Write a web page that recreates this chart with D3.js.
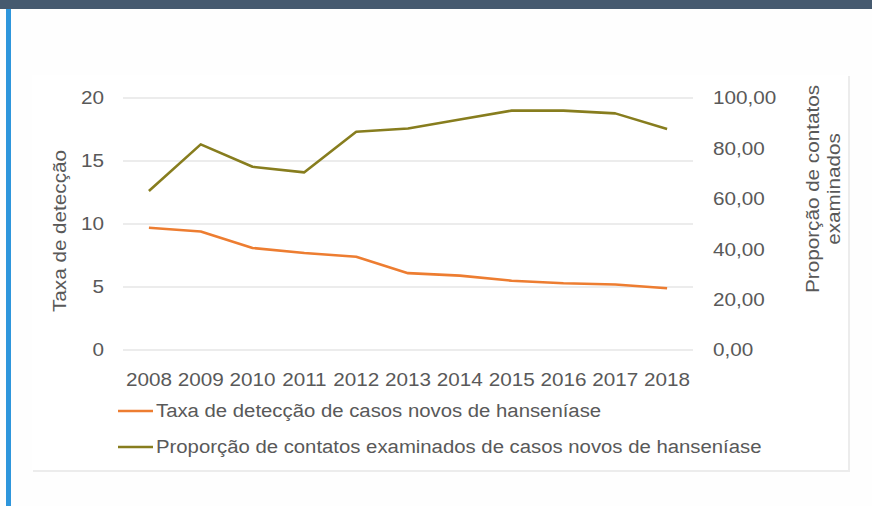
<!DOCTYPE html>
<html><head><meta charset="utf-8">
<script src="https://cdn.jsdelivr.net/npm/d3@7"></script>
<style>
html,body{margin:0;padding:0;background:#fefefe;}
svg{display:block;font-family:"Liberation Sans",Arial,sans-serif;}
</style></head>
<body><svg id="c" width="872" height="506"></svg>
<script>
const years = ["2008","2009","2010","2011","2012","2013","2014","2015","2016","2017","2018"];
const taxaDeteccao = [9.7, 9.4, 8.1, 7.7, 7.4, 6.1, 5.9, 5.5, 5.3, 5.2, 4.9];
const proporcaoContatos = [63.1, 81.6, 72.7, 70.5, 86.6, 87.9, 91.5, 95.0, 95.0, 93.9, 87.7];
const leftTicks = [0, 5, 10, 15, 20];
const rightTicks = [0, 20, 40, 60, 80, 100];
const seriesNames = ["Taxa de detecção de casos novos de hanseníase","Proporção de contatos examinados de casos novos de hanseníase"];
const colors = ["#ed7d31", "#877d1e"];

const SX = 1.15, FS = 18;
const svg = d3.select("#c");
svg.append("rect").attr("x",0).attr("y",0).attr("width",872).attr("height",9).attr("fill","#465a6f");
svg.append("rect").attr("x",6).attr("y",9).attr("width",5).attr("height",497).attr("fill","#2e96dc");
svg.append("rect").attr("x",33).attr("y",76).attr("width",817).attr("height",396).attr("fill","#ececec");
svg.append("rect").attr("x",32).attr("y",75).attr("width",816).attr("height",395).attr("fill","#ffffff");

const x = d3.scalePoint().domain(years).range([123,693]).padding(0.5);
const yL = d3.scaleLinear().domain([0,20]).range([350,98]);
const yR = d3.scaleLinear().domain([0,100]).range([350,98]);

const textColor = "#595959";
svg.append("g").selectAll("line").data(leftTicks).join("line")
  .attr("x1",123).attr("x2",693).attr("y1",d=>yL(d)).attr("y2",d=>yL(d))
  .attr("stroke","#d9d9d9").attr("stroke-width",1.2);

svg.append("g").selectAll("text").data(leftTicks).join("text")
  .attr("transform",d=>`translate(104,${yL(d)}) scale(${SX},1)`).attr("dy","0.35em").attr("text-anchor","end")
  .attr("font-size",FS).attr("fill",textColor).text(d=>d);
const fmt = d => d3.format(".2f")(d).replace(".",",");
svg.append("g").selectAll("text").data(rightTicks).join("text")
  .attr("transform",d=>`translate(713,${yR(d)}) scale(${SX},1)`).attr("dy","0.35em").attr("text-anchor","start")
  .attr("font-size",FS).attr("fill",textColor).text(fmt);
svg.append("g").selectAll("text").data(years).join("text")
  .attr("transform",d=>`translate(${x(d)},380) scale(${SX},1)`).attr("dy","0.35em").attr("text-anchor","middle")
  .attr("font-size",FS).attr("fill",textColor).text(d=>d);

svg.append("text").attr("transform",`translate(60,231) rotate(-90) scale(${SX},1)`).attr("text-anchor","middle")
  .attr("dy","0.35em").attr("font-size",FS).attr("fill",textColor).text("Taxa de detecção");
const rt = svg.append("text").attr("transform",`translate(813,189) rotate(-90) scale(${SX},1)`).attr("text-anchor","middle")
  .attr("font-size",FS).attr("fill",textColor);
rt.append("tspan").attr("x",0).attr("dy","0.35em").text("Proporção de contatos");
rt.append("tspan").attr("x",0).attr("dy","1.15em").text("examinados");

const lineL = d3.line().x((d,i)=>x(years[i])).y(d=>yL(d));
const lineR = d3.line().x((d,i)=>x(years[i])).y(d=>yR(d));
svg.append("path").attr("d",lineL(taxaDeteccao)).attr("fill","none").attr("stroke",colors[0]).attr("stroke-width",2.6).attr("stroke-linejoin","round");
svg.append("path").attr("d",lineR(proporcaoContatos)).attr("fill","none").attr("stroke",colors[1]).attr("stroke-width",2.6).attr("stroke-linejoin","round");

const lg = svg.append("g").selectAll("g").data(seriesNames).join("g")
  .attr("transform",(d,i)=>`translate(118,${411+i*36})`);
lg.append("line").attr("x1",0).attr("x2",35).attr("y1",0).attr("y2",0)
  .attr("stroke",(d,i)=>colors[i]).attr("stroke-width",2.6);
lg.append("text").attr("transform",`translate(38,0) scale(1.13,1)`).attr("dy","0.35em").attr("font-size",FS).attr("fill",textColor).text(d=>d);
</script></body></html>
